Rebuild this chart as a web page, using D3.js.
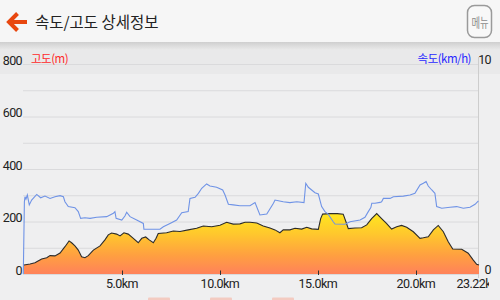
<!DOCTYPE html>
<html><head><meta charset="utf-8">
<script src="https://cdn.jsdelivr.net/npm/d3@7"></script>
<style>html,body{margin:0;padding:0;background:#f6f6f6;overflow:hidden}svg{display:block}</style>
</head><body>
<script>
const elevKm = [0,0.31,0.56,0.90,1.16,1.33,1.58,1.84,2.09,2.30,2.43,2.60,2.77,2.94,3.11,3.28,3.54,3.88,4.13,4.30,4.47,4.73,4.90,5.10,5.32,5.58,5.83,6.01,6.21,6.39,6.60,6.74,6.85,7.28,7.62,7.96,8.38,8.81,9.15,9.58,10.00,10.34,10.68,11.02,11.28,11.53,11.88,12.21,12.55,12.81,13.06,13.23,13.57,13.83,14.17,14.43,14.68,15.02,15.14,15.24,15.62,15.99,16.29,16.43,16.55,16.89,17.23,17.49,17.74,18.00,18.25,18.51,18.76,19.02,19.27,19.53,19.87,20.21,20.38,20.63,20.89,21.14,21.40,21.65,21.88,22.34,22.67,22.93,23.10,23.22];
const elevM = [34,38,43,57,62,70,69,80,104,126,119,107,91,66,62,70,91,107,130,149,156,152,145,157,152,136,119,136,141,130,119,136,154,157,164,162,168,174,183,180,186,197,190,191,197,197,194,183,175,168,157,168,168,174,171,178,172,170,211,228,230,230,228,199,173,175,176,187,211,230,211,192,171,180,185,178,161,136,138,142,168,185,161,123,95,94,79,53,37,34];
const speedKm = [0,0.02,0.05,0.10,0.17,0.27,0.39,0.65,0.85,1.07,1.33,1.58,1.84,2.01,2.09,2.26,2.60,2.77,2.89,3.11,3.37,3.71,4.22,4.56,4.64,4.70,4.99,5.15,5.24,5.41,5.75,6.09,6.12,6.60,6.94,7.11,7.45,7.79,8.05,8.38,8.47,8.73,8.90,9.07,9.32,9.49,9.83,10.14,10.26,10.43,10.68,11.02,11.53,11.79,12.04,12.39,12.73,12.81,12.98,13.23,13.57,13.92,14.29,14.38,14.51,14.68,14.85,15.02,15.19,15.36,15.53,15.78,15.87,16.38,16.64,17.15,17.40,17.57,17.70,17.75,17.91,18.17,18.25,18.34,18.68,18.85,19.36,19.70,19.95,20.21,20.38,20.52,20.63,20.81,20.97,21.06,21.32,21.74,22.08,22.42,22.76,23.02,23.19];
const speedV = [0,3.44,3.68,3.56,3.76,3.29,3.52,3.79,3.63,3.71,3.60,3.68,3.73,3.68,3.44,3.21,3.16,2.97,2.65,2.68,2.65,2.70,2.73,2.89,2.97,2.65,2.57,2.76,2.94,2.73,2.57,2.41,2.13,2.13,2.13,2.25,2.41,2.57,2.92,2.97,3.60,3.65,3.84,4.08,4.29,4.19,4.13,4.00,3.76,3.32,3.29,3.25,3.25,3.40,2.81,2.86,3.37,3.52,3.49,3.44,3.40,3.44,3.40,4.32,4.13,4.00,3.87,3.81,3.21,2.97,2.84,2.49,2.38,2.37,2.49,2.57,2.70,2.97,3.16,3.37,3.37,3.41,3.44,3.60,3.60,3.68,3.71,3.76,3.84,4.24,4.32,4.40,4.19,4.00,3.84,3.21,3.13,3.18,3.21,3.13,3.18,3.32,3.48];
const elevTicks = [0,100,200,300,400,500,600,700,800];
const elevLabels = [0,200,400,600,800];
const xTicks = [5,10,15,20];
const totalKm = 23.22;
const speedMax = 10;
const title = "속도/고도 상세정보";
const elevTitle = "고도(m)";
const speedTitle = "속도(km/h)";
const menuText = "메뉴";

const W = 500, H = 300;
const svg = d3.select("body").append("svg").attr("width", W).attr("height", H);
const defs = svg.append("defs");

// backgrounds
svg.append("rect").attr("width", W).attr("height", H).attr("fill", "#efeff0");
const sh = defs.append("linearGradient").attr("id","shadow").attr("x1",0).attr("y1",0).attr("x2",0).attr("y2",1);
sh.append("stop").attr("offset","0%").attr("stop-color","#cfcfcf");
sh.append("stop").attr("offset","100%").attr("stop-color","#eaeaea");
svg.append("rect").attr("x",0).attr("y",42).attr("width",W).attr("height",8).attr("fill","url(#shadow)");
svg.append("rect").attr("x",0).attr("y",50).attr("width",W).attr("height",24).attr("fill","#e9e9ea");
svg.append("rect").attr("x",0).attr("y",0).attr("width",W).attr("height",42).attr("fill","#f6f6f6");

// header
svg.append("path").attr("d","M10,22 L27,22 M17.5,13.5 L9,22 L17.5,30.5")
  .attr("fill","none").attr("stroke","#e8470f").attr("stroke-width",4).attr("stroke-linecap","butt").attr("stroke-linejoin","miter");
svg.append("text").attr("x",35).attr("y",28).text(title)
  .attr("font-family","'Noto Sans CJK KR', sans-serif").attr("font-size",15.5).attr("fill","#222");
svg.append("rect").attr("x",467.5).attr("y",5.5).attr("width",24).attr("height",32).attr("rx",7)
  .attr("fill","#f8f8f8").attr("stroke","#9a9a9a").attr("stroke-width",1.5);
svg.append("text").attr("transform","translate(480,27) scale(0.85,1.15)").attr("text-anchor","middle").text(menuText)
  .attr("font-family","'Noto Sans CJK KR', sans-serif").attr("font-size",11).attr("fill","#8a8a8a");

// scales
const x = d3.scaleLinear().domain([0,totalKm]).range([24,479]);
const y = d3.scaleLinear().domain([0,800]).range([274,64]);
const ys = d3.scaleLinear().domain([0,speedMax]).range([274,64]);

// gridlines
svg.append("g").selectAll("line").data(elevTicks).join("line")
  .attr("x1",23).attr("x2",478).attr("y1",d=>y(d)+0.5).attr("y2",d=>y(d)+0.5)
  .attr("stroke","#dadadc").attr("stroke-width",1);

// right axis line
svg.append("line").attr("x1",478.5).attr("x2",478.5).attr("y1",57).attr("y2",278)
  .attr("stroke","#cdcdcd").attr("stroke-width",1);

// area
const grad = defs.append("linearGradient").attr("id","fillg").attr("gradientUnits","userSpaceOnUse")
  .attr("x1",0).attr("y1",y(240)).attr("x2",0).attr("y2",y(0));
grad.append("stop").attr("offset","0%").attr("stop-color","#ffea1e");
grad.append("stop").attr("offset","35%").attr("stop-color","#ffc92c");
grad.append("stop").attr("offset","70%").attr("stop-color","#ffa040");
grad.append("stop").attr("offset","100%").attr("stop-color","#ff825a");
const elevData = elevKm.map((k,i)=>({k, v: elevM[i]}));
svg.append("path").datum(elevData)
  .attr("d", d3.area().x(d=>x(d.k)).y0(y(0)).y1(d=>y(d.v)))
  .attr("fill","url(#fillg)");
svg.append("path").datum(elevData)
  .attr("d", d3.line().x(d=>x(d.k)).y(d=>y(d.v)))
  .attr("fill","none").attr("stroke","#2b2b2b").attr("stroke-width",1.1);

// speed line
const spData = speedKm.map((k,i)=>({k, v: speedV[i]}));
svg.append("path").datum(spData)
  .attr("d", d3.line().x(d=>x(d.k)-(d.k===0?0.7:0)).y(d=>ys(d.v)))
  .attr("fill","none").attr("stroke","#6f93e6").attr("stroke-width",1.1);

// x ticks
svg.append("g").selectAll("line").data(xTicks).join("line")
  .attr("x1",d=>Math.round(x(d))+0.5).attr("x2",d=>Math.round(x(d))+0.5).attr("y1",270.5).attr("y2",275)
  .attr("stroke","#333").attr("stroke-width",1);

const font = "Roboto, 'Noto Sans', sans-serif";
// left labels
svg.append("g").selectAll("text").data(elevLabels).join("text")
  .attr("x",22).attr("y",d=>y(d)+0.5).attr("text-anchor","end").text(d=>d)
  .attr("font-family",font).attr("font-size",12.5).attr("letter-spacing",-0.6).attr("fill","#222");
// right labels
svg.append("g").selectAll("text").data([0,speedMax]).join("text")
  .attr("x",491).attr("y",d=>ys(d)-0.5).attr("text-anchor","end").text(d=>d)
  .attr("font-family",font).attr("font-size",12.5).attr("letter-spacing",-0.6).attr("fill","#222");
// axis titles
svg.append("text").attr("x",31).attr("y",63).text(elevTitle)
  .attr("font-family","'Noto Sans CJK KR', sans-serif").attr("font-size",11.5).attr("letter-spacing",-0.5).attr("fill","#ff2a2a");
svg.append("text").attr("x",471).attr("y",63).attr("text-anchor","end").text(speedTitle)
  .attr("font-family","'Noto Sans CJK KR', sans-serif").attr("font-size",11.5).attr("letter-spacing",-0.5).attr("fill","#2a2aff");

// x labels (last one clipped as in the original)
defs.append("clipPath").attr("id","xclip").append("rect").attr("x",0).attr("y",0).attr("width",489).attr("height",H);
const xl = svg.append("g").attr("clip-path","url(#xclip)");
xl.selectAll("text").data(xTicks.concat([totalKm])).join("text")
  .attr("x",d=>x(d)).attr("y",288).attr("text-anchor","middle")
  .text(d=> d===totalKm ? d3.format(".2f")(d)+"km" : d3.format(".1f")(d)+"km")
  .attr("font-family",font).attr("font-size",12.5).attr("letter-spacing",-0.5).attr("fill","#222");

// partially visible bottom buttons
svg.append("g").selectAll("rect").data([148,210,272]).join("rect")
  .attr("x",d=>d).attr("y",297.5).attr("width",22).attr("height",4).attr("rx",1)
  .attr("fill","#f3cbc1");
</script>
</body></html>
